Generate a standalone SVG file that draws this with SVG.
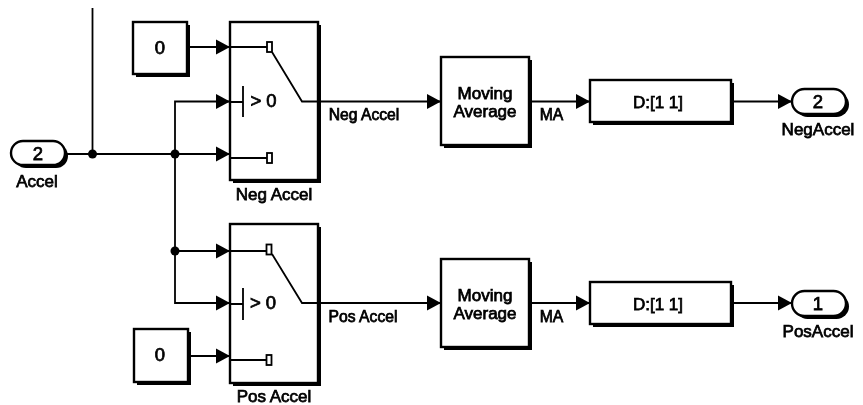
<svg xmlns="http://www.w3.org/2000/svg" width="863" height="405" viewBox="0 0 863 405">
<defs>
<filter id="s" x="-15%" y="-15%" width="130%" height="130%"><feGaussianBlur stdDeviation="0.7"/></filter>
<filter id="soft" x="0" y="0" width="863" height="405" filterUnits="userSpaceOnUse"><feGaussianBlur stdDeviation="0.35"/></filter>
<marker id="a" markerUnits="userSpaceOnUse" markerWidth="14" markerHeight="16" refX="14" refY="8" orient="auto"><path d="M0 0.500L14 8L0 15.500Z" fill="#000"/></marker>
</defs>
<style>
text{font-family:"Liberation Sans",Arial,sans-serif;font-size:17px;fill:#000;stroke:#000;stroke-width:.75;text-anchor:middle}
.l{font-size:15.700px}
.n{font-size:18.500px}
.b{fill:#fff;stroke:#000;stroke-width:2.4}
.sh{fill:#000;filter:url(#s)}
.c{fill:none;stroke:#000;stroke-width:1.800}
.w{fill:none;stroke:#000;stroke-width:1.800;marker-end:url(#a)}
.k{fill:#fff;stroke:#000;stroke-width:1.800}
</style>
<g id="diagram" filter="url(#soft)">
<g id="connectors">
<path class="c" d="M92.500 8V154"/>
<path class="w" d="M66 154H230"/>
<path class="w" d="M175 154V101.500H230"/>
<path class="w" d="M175 154V251H230"/>
<path class="w" d="M175 251V303H230"/>
<path class="w" d="M188 47H230"/>
<path class="w" d="M188 356H230"/>
<path class="w" d="M318 101.500H441"/>
<path class="w" d="M318 303H441"/>
<path class="w" d="M530 101.500H590"/>
<path class="w" d="M530 303H590"/>
<path class="w" d="M732 101.500H792"/>
<path class="w" d="M732 303H792"/>
<circle cx="92.500" cy="154" r="4.500"/>
<circle cx="175" cy="154" r="4.500"/>
<circle cx="175" cy="251" r="4.500"/>
<text class="l" x="364" y="120">Neg Accel</text>
<text class="l" x="363" y="322">Pos Accel</text>
<text class="l" x="551.500" y="120">MA</text>
<text class="l" x="551.500" y="322">MA</text>
</g>
<g id="inport-accel">
<rect class="sh" x="14" y="144" width="54" height="24" rx="12"/>
<rect class="b" x="11" y="141" width="54" height="24" rx="12"/>
<text class="n" x="38" y="160">2</text>
<text x="37" y="187">Accel</text>
</g>
<g id="const-top">
<rect class="sh" x="136" y="25" width="54" height="52"/>
<rect class="b" x="133" y="22" width="54" height="52"/>
<text class="n" x="160" y="54">0</text>
</g>
<g id="const-bottom">
<rect class="sh" x="137" y="332" width="54" height="53"/>
<rect class="b" x="134" y="329" width="54" height="53"/>
<text class="n" x="160" y="361">0</text>
</g>
<g id="switch-neg">
<rect class="sh" x="233" y="25" width="88" height="158"/>
<rect class="b" x="230" y="22" width="88" height="158"/>
<path class="c" d="M230 47H267M230 158H267M230 102H243M243 86V117M272 52L302 101.500H318"/>
<rect class="k" x="267" y="42" width="5" height="10"/>
<rect class="k" x="267" y="153" width="5" height="10"/>
<text class="n" x="263.500" y="106.500">&gt; 0</text>
<text x="274" y="200">Neg Accel</text>
</g>
<g id="switch-pos">
<rect class="sh" x="233" y="227" width="88" height="159"/>
<rect class="b" x="230" y="224" width="88" height="159"/>
<path class="c" d="M230 251H266M230 360H266M230 304H243M243 288V320M272 254L302 303H318"/>
<rect class="k" x="266.500" y="244.500" width="5" height="10"/>
<rect class="k" x="266.500" y="355" width="5" height="10"/>
<text class="n" x="263" y="308.500">&gt; 0</text>
<text x="274" y="402">Pos Accel</text>
</g>
<g id="ma-neg">
<rect class="sh" x="444" y="60" width="88" height="88"/>
<rect class="b" x="441" y="57" width="88" height="88"/>
<text x="485" y="99">Moving</text>
<text x="485" y="117">Average</text>
</g>
<g id="ma-pos">
<rect class="sh" x="444" y="262" width="88" height="88"/>
<rect class="b" x="441" y="259" width="88" height="88"/>
<text x="485" y="301">Moving</text>
<text x="485" y="319">Average</text>
</g>
<g id="disp-neg">
<rect class="sh" x="593" y="83" width="141" height="42"/>
<rect class="b" x="590" y="80" width="141" height="42"/>
<text x="658" y="107.500">D:[1 1]</text>
</g>
<g id="disp-pos">
<rect class="sh" x="593" y="285" width="141" height="42"/>
<rect class="b" x="590" y="282" width="141" height="42"/>
<text x="658" y="309.500">D:[1 1]</text>
</g>
<g id="out-neg">
<rect class="sh" x="795" y="92" width="54" height="25" rx="12.500"/>
<rect class="b" x="792" y="89" width="54" height="25" rx="12.500"/>
<text class="n" x="818" y="108">2</text>
<text x="818" y="135">NegAccel</text>
</g>
<g id="out-pos">
<rect class="sh" x="795" y="294" width="54" height="25" rx="12.500"/>
<rect class="b" x="792" y="291" width="54" height="25" rx="12.500"/>
<text class="n" x="818" y="310">1</text>
<text x="818" y="337">PosAccel</text>
</g>
</g>
</svg>
